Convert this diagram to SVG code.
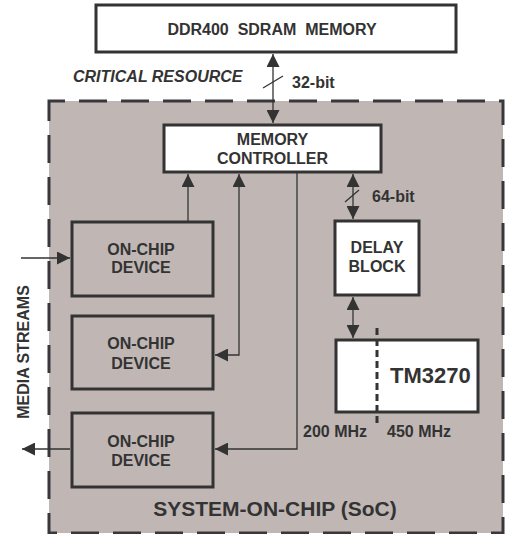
<svg xmlns="http://www.w3.org/2000/svg" width="506" height="534" viewBox="0 0 506 534">
<style>
.t{font-family:"Liberation Sans",Arial,sans-serif;font-weight:bold;font-size:16px;fill:#333}
.m{text-anchor:middle}
.box{fill:#fff;stroke:#333;stroke-width:3}
.dev{fill:none;stroke:#333;stroke-width:3}
.ln{fill:none;stroke:#333;stroke-width:1.3}
</style>
<defs>
<marker id="ah" viewBox="0 0 13 13" refX="13" refY="6.5" markerWidth="13" markerHeight="13" markerUnits="userSpaceOnUse" orient="auto-start-reverse">
<path d="M0,0 L13,6.5 L0,13 Z" fill="#333"/>
</marker>
</defs>
<rect width="506" height="534" fill="#fff"/>
<g id="soc">
<rect x="49" y="101" width="454" height="432" fill="#c0b7b5" stroke="#38383c" stroke-width="3" stroke-dasharray="28 14" stroke-dashoffset="12"/>
<text class="t m" x="275" y="516" style="font-size:21px">SYSTEM-ON-CHIP (SoC)</text>
</g>
<g id="ddr">
<rect class="box" x="96" y="5" width="360" height="47"/>
<text class="t m" x="272" y="35" xml:space="preserve">DDR400  SDRAM  MEMORY</text>
</g>
<text class="t" x="73" y="81.5" style="font-style:italic">CRITICAL RESOURCE</text>
<g id="mc">
<rect class="box" x="164" y="125" width="217" height="47"/>
<text class="t m" x="272.5" y="145">MEMORY</text>
<text class="t m" x="272.5" y="164">CONTROLLER</text>
</g>
<g id="dev1">
<rect class="dev" x="72" y="222" width="141" height="74"/>
<text class="t m" x="141" y="255">ON-CHIP</text>
<text class="t m" x="141" y="273">DEVICE</text>
</g>
<g id="dev2">
<rect class="dev" x="72" y="316" width="141" height="73"/>
<text class="t m" x="141" y="349">ON-CHIP</text>
<text class="t m" x="141" y="369">DEVICE</text>
</g>
<g id="dev3">
<rect class="dev" x="72" y="413" width="141" height="74"/>
<text class="t m" x="141" y="447">ON-CHIP</text>
<text class="t m" x="141" y="466">DEVICE</text>
</g>
<g id="delay">
<rect class="box" x="335" y="221" width="84" height="74"/>
<text class="t m" x="377" y="253">DELAY</text>
<text class="t m" x="377" y="272">BLOCK</text>
</g>
<g id="tm3270">
<rect class="box" x="336" y="340" width="142" height="72"/>
<line x1="377" y1="328" x2="377" y2="427" stroke="#333" stroke-width="3" stroke-dasharray="7 4"/>
<text class="t" x="390" y="383" style="font-size:22px">TM3270</text>
<text class="t" x="303" y="437">200 MHz</text>
<text class="t" x="387" y="437">450 MHz</text>
</g>
<g id="connectors">
<line class="ln" x1="273" y1="54" x2="273" y2="123" marker-start="url(#ah)" marker-end="url(#ah)"/>
<line class="ln" x1="263" y1="88" x2="283" y2="76"/>
<text class="t" x="292" y="87.5">32-bit</text>
<line class="ln" x1="353" y1="174" x2="353" y2="219" marker-start="url(#ah)" marker-end="url(#ah)"/>
<line class="ln" x1="345" y1="202" x2="359" y2="190"/>
<text class="t" x="372" y="201.5">64-bit</text>
<line class="ln" x1="353" y1="297" x2="353" y2="338" marker-start="url(#ah)" marker-end="url(#ah)"/>
<line class="ln" x1="188" y1="221" x2="188" y2="174" marker-end="url(#ah)"/>
<polyline class="ln" points="215,355 239,355 239,174" marker-start="url(#ah)" marker-end="url(#ah)"/>
<polyline class="ln" points="297,173 297,449 215,449" marker-end="url(#ah)"/>
<line class="ln" x1="21" y1="258" x2="70" y2="258" marker-end="url(#ah)"/>
<line class="ln" x1="70" y1="449" x2="22" y2="449" marker-end="url(#ah)"/>
<text class="t m" transform="translate(29,352) rotate(-90)">MEDIA STREAMS</text>
</g>
</svg>
